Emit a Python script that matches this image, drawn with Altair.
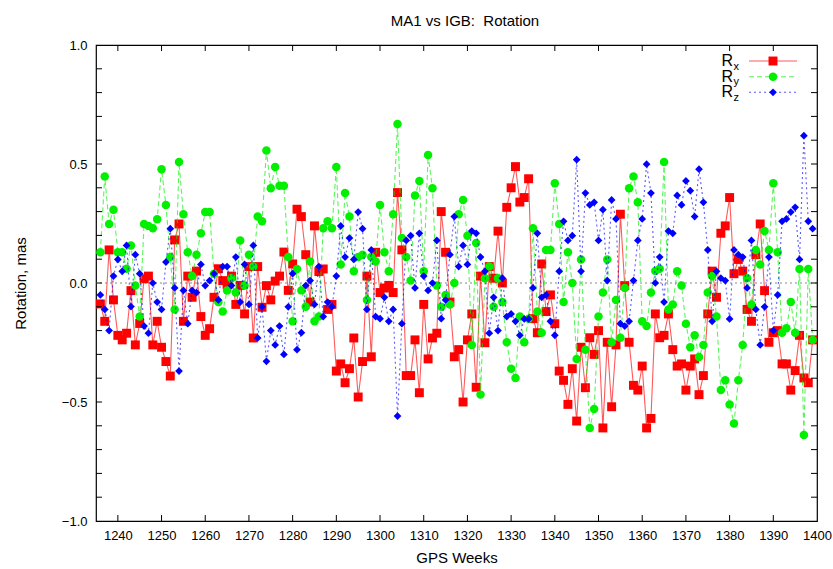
import altair as alt
import pandas as pd

# GPS weeks covered by the comparison
weeks = list(range(1236, 1400))

# Rotation offsets (mas) about X, Y and Z, one value per GPS week
rx = [
    -0.088, -0.161, 0.139, -0.071, -0.220, -0.239, -0.211, -0.032, -0.260, -0.170,
    0.018, 0.029, -0.260, -0.161, -0.270, -0.330, -0.391, 0.181, 0.248, -0.161,
    0.029, -0.060, 0.050, -0.141, -0.220, -0.192, -0.060, 0.060, 0.010, -0.007,
    0.029, -0.090, -0.010, -0.130, 0.069, -0.231, 0.069, -0.102, -0.011, -0.071,
    0.008, 0.029, 0.130, -0.031, 0.080, 0.310, 0.279, 0.119, -0.080, 0.240,
    0.048, 0.059, -0.111, -0.090, -0.370, -0.340, -0.419, -0.360, -0.231, -0.479,
    -0.330, 0.029, -0.310, 0.129, -0.040, -0.021, -0.010, -0.040, 0.380, 0.139,
    -0.389, -0.389, -0.239, -0.461, -0.090, -0.319, -0.231, -0.211, 0.300, 0.129,
    -0.080, -0.310, -0.280, -0.500, -0.239, -0.130, -0.438, 0.029, -0.251, 0.069,
    0.020, 0.218, 0.000, 0.318, 0.400, 0.489, 0.340, 0.359, 0.438, -0.150,
    -0.209, 0.080, -0.120, -0.050, -0.171, -0.370, -0.409, -0.510, -0.360, -0.580,
    -0.270, -0.440, -0.230, -0.300, -0.200, -0.609, -0.249, -0.520, -0.260, 0.289,
    -0.011, -0.249, -0.430, -0.450, -0.349, -0.609, -0.569, -0.130, -0.230, -0.220,
    -0.130, -0.280, -0.349, -0.340, -0.450, -0.349, -0.319, -0.469, -0.389, -0.130,
    0.050, -0.060, 0.209, 0.240, 0.359, 0.039, 0.099, 0.050, -0.111, -0.161,
    0.119, 0.248, -0.032, -0.249, -0.209, -0.200, -0.340, -0.340, -0.450, -0.368,
    -0.220, -0.399, -0.419, -0.239,
]
ry = [
    0.129, 0.448, 0.248, 0.308, 0.129, 0.129, 0.060, 0.158, -0.011, -0.141,
    0.248, 0.240, 0.230, 0.268, 0.478, 0.328, 0.109, -0.111, 0.508, 0.289,
    0.129, 0.029, 0.119, 0.209, 0.298, 0.298, 0.039, -0.080, -0.120, -0.031,
    0.020, -0.040, 0.179, -0.011, 0.119, 0.069, 0.279, 0.259, 0.557, 0.398,
    0.487, 0.409, 0.409, 0.109, -0.161, 0.059, -0.031, -0.100, 0.090, -0.161,
    -0.141, 0.230, 0.259, 0.230, 0.487, 0.078, 0.378, 0.279, 0.049, 0.109,
    0.119, -0.071, 0.109, 0.090, 0.328, 0.129, 0.049, 0.289, 0.668, 0.189,
    0.109, 0.010, 0.368, 0.429, 0.049, 0.538, 0.398, -0.011, -0.100, -0.050,
    -0.090, 0.000, 0.289, 0.349, 0.199, -0.260, 0.168, -0.469, 0.020, 0.069,
    -0.100, 0.020, -0.080, -0.249, -0.360, -0.399, -0.141, -0.249, -0.150, 0.230,
    -0.120, -0.209, 0.139, 0.139, 0.419, 0.248, -0.080, 0.129, 0.000, -0.319,
    0.099, -0.280, -0.609, -0.529, -0.141, -0.040, 0.099, -0.249, -0.071, -0.230,
    -0.021, 0.398, 0.448, 0.339, -0.161, -0.181, -0.040, 0.050, 0.060, 0.508,
    -0.111, -0.090, 0.049, -0.011, -0.171, -0.270, -0.220, -0.311, -0.260, -0.040,
    0.029, -0.141, -0.450, -0.409, -0.510, -0.590, -0.409, -0.260, 0.020, -0.090,
    0.139, 0.078, 0.218, 0.139, 0.419, 0.129, -0.209, -0.190, -0.080, -0.209,
    0.059, -0.639, 0.059, -0.239,
]
rz = [
    -0.050, -0.111, -0.200, 0.029, 0.099, 0.049, 0.158, -0.099, 0.119, 0.039,
    -0.181, -0.211, 0.000, -0.080, -0.111, 0.088, 0.228, -0.021, -0.370, -0.031,
    -0.171, -0.031, -0.040, 0.078, -0.011, 0.010, 0.039, -0.071, 0.069, 0.069,
    -0.011, 0.109, -0.080, 0.078, -0.090, 0.158, -0.231, -0.100, -0.329, -0.200,
    -0.260, -0.181, -0.300, -0.100, 0.039, -0.280, -0.209, -0.011, 0.010, -0.090,
    0.069, -0.141, -0.080, -0.100, 0.029, 0.240, 0.109, 0.189, 0.099, 0.298,
    0.228, -0.111, 0.139, -0.141, -0.150, -0.060, -0.161, -0.111, -0.559, -0.171,
    0.179, 0.199, -0.021, 0.209, 0.029, -0.031, 0.000, 0.179, -0.150, -0.071,
    0.119, 0.279, 0.069, 0.158, 0.078, 0.218, 0.209, 0.109, 0.049, -0.211,
    -0.060, -0.200, 0.020, -0.141, -0.130, -0.161, -0.220, -0.151, -0.151, -0.021,
    0.209, -0.060, -0.050, -0.161, -0.220, 0.049, 0.259, 0.179, 0.199, 0.518,
    0.049, 0.378, 0.328, 0.339, 0.179, 0.308, 0.010, 0.349, 0.269, -0.171,
    -0.181, -0.161, 0.010, 0.179, 0.269, 0.499, 0.378, 0.000, 0.109, -0.080,
    0.218, 0.209, 0.368, 0.328, 0.429, 0.388, 0.279, 0.478, 0.339, 0.139,
    -0.161, 0.049, 0.020, 0.010, -0.151, 0.139, 0.119, 0.109, -0.021, 0.179,
    -0.111, -0.260, -0.100, 0.109, -0.200, -0.050, 0.259, 0.269, 0.298, 0.318,
    0.099, 0.619, 0.259, 0.228,
]

series_names = ["Rx", "Ry", "Rz"]
subscripts = ["x", "y", "z"]

# Axis tick positions and labels
x_tick_labels = [1240, 1250, 1260, 1270, 1280, 1290, 1300, 1310, 1320, 1330,
                 1340, 1350, 1360, 1370, 1380, 1390, 1400]
x_inner_ticks = [1240, 1250, 1260, 1270, 1280, 1290, 1300, 1310, 1320, 1330,
                 1340, 1350, 1360, 1370, 1380, 1390]
y_tick_labels = [-1.0, -0.5, 0.0, 0.5, 1.0]
y_inner_ticks = [-0.9, -0.8, -0.7, -0.6, -0.5, -0.4, -0.3, -0.2, -0.1, 0.0,
                 0.1, 0.2, 0.3, 0.4, 0.5, 0.6, 0.7, 0.8, 0.9]

FONT = "Liberation Sans"
W, H = 721, 476

x_enc = alt.X(
    "week:Q",
    scale=alt.Scale(domain=[1235, 1400], nice=False, zero=False),
    axis=alt.Axis(values=x_tick_labels, format="d", title="GPS Weeks",
                  ticks=False, domain=False, grid=False, labelPadding=8,
                  labelFontSize=13, labelFont=FONT, labelColor="#000",
                  titleFont=FONT, titleFontSize=15, titleFontWeight="normal",
                  titleColor="#000", titlePadding=8, labelFlush=False),
)
y_enc = alt.Y(
    "value:Q",
    scale=alt.Scale(domain=[-1, 1], nice=False, zero=False),
    axis=alt.Axis(values=y_tick_labels, format=".1f", title="Rotation, mas",
                  ticks=False, domain=False, grid=False, labelPadding=9,
                  labelFontSize=13, labelFont=FONT, labelColor="#000",
                  titleFont=FONT, titleFontSize=15, titleFontWeight="normal",
                  titleColor="#000", titlePadding=33, labelFlush=False),
)

colors = {"Rx": "#ff0000", "Ry": "#00f000", "Rz": "#0000ff"}
shapes = {"Rx": "square", "Ry": "circle", "Rz": "diamond"}
sizes = {"Rx": 80, "Ry": 72, "Rz": 60}
dashes = {"Rx": [1, 0], "Ry": [5, 3], "Rz": [2, 3]}
values = {"Rx": rx, "Ry": ry, "Rz": rz}

layers = []

# dotted zero line
zero_df = pd.DataFrame({"value": [0.0]})
layers.append(
    alt.Chart(zero_df).mark_rule(color="#888888", strokeDash=[2, 3], strokeWidth=1)
    .encode(y=y_enc)
)

# series: connecting line, then markers, drawn Rx -> Ry -> Rz
for name in series_names:
    df = pd.DataFrame({"week": weeks, "value": values[name]})
    layers.append(
        alt.Chart(df).mark_line(color=colors[name], strokeWidth=1.1, opacity=0.65,
                                strokeDash=dashes[name])
        .encode(x=x_enc, y=y_enc)
    )
    layers.append(
        alt.Chart(df).mark_point(shape=shapes[name], filled=True, opacity=1,
                                 color=colors[name], size=sizes[name], strokeWidth=0)
        .encode(x=x_enc, y=y_enc)
    )

# inward ticks on all four sides
TL = 6
xt = pd.DataFrame({"week": x_inner_ticks})
yt = pd.DataFrame({"value": y_inner_ticks})
tick_style = dict(color="#000", strokeWidth=1)
layers.append(alt.Chart(xt).mark_rule(**tick_style).encode(x=x_enc, y=alt.value(H), y2=alt.value(H - TL)))
layers.append(alt.Chart(xt).mark_rule(**tick_style).encode(x=x_enc, y=alt.value(0), y2=alt.value(TL)))
layers.append(alt.Chart(yt).mark_rule(**tick_style).encode(y=y_enc, x=alt.value(0), x2=alt.value(TL)))
layers.append(alt.Chart(yt).mark_rule(**tick_style).encode(y=y_enc, x=alt.value(W), x2=alt.value(W - TL)))

# key in the upper right corner
one = pd.DataFrame({"k": [0]})
row_y = [16, 31.7, 47.3]
for i, name in enumerate(series_names):
    yy = row_y[i]
    layers.append(
        alt.Chart(one).mark_rule(color=colors[name], strokeWidth=1.1, opacity=0.65,
                                 strokeDash=dashes[name])
        .encode(x=alt.value(653), x2=alt.value(701), y=alt.value(yy))
    )
    layers.append(
        alt.Chart(one).mark_point(shape=shapes[name], filled=True, opacity=1,
                                  color=colors[name], size=sizes[name], strokeWidth=0)
        .encode(x=alt.value(677), y=alt.value(yy))
    )
    layers.append(
        alt.Chart(one).mark_text(text="R", font=FONT, fontSize=16, align="right",
                                 baseline="alphabetic", color="#000")
        .encode(x=alt.value(637), y=alt.value(yy + 5))
    )
    layers.append(
        alt.Chart(one).mark_text(text=subscripts[i], font=FONT, fontSize=11, align="left",
                                 baseline="alphabetic", color="#000")
        .encode(x=alt.value(637.5), y=alt.value(yy + 8.5))
    )

# title
layers.append(
    alt.Chart(one).mark_text(text="MA1 vs IGB:\u00a0 Rotation", font=FONT, fontSize=15,
                             align="center", baseline="alphabetic", color="#000")
    .encode(x=alt.value(369), y=alt.value(-19))
)

chart = (
    alt.layer(*layers)
    .properties(width=W, height=H, background="white",
                padding={"left": 96, "top": 45, "right": 16, "bottom": 48},
                autosize=alt.AutoSizeParams(type="none"))
    .configure_view(stroke="#000", strokeWidth=1.2)
)

chart.save("out.html", embed_options={"renderer": "svg", "actions": False})
